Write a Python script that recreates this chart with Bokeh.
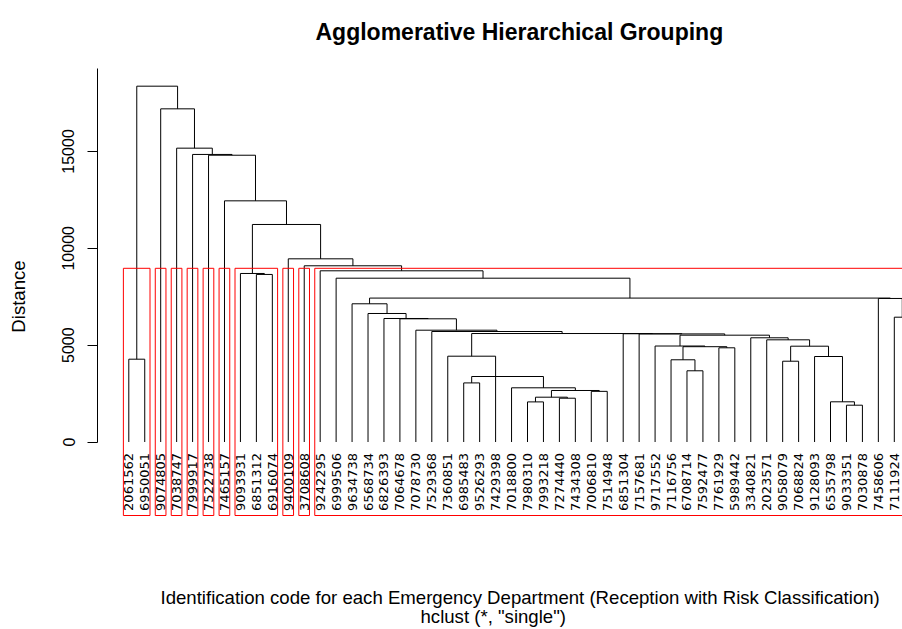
import math
from bokeh.plotting import figure
from bokeh.models import Range1d, LinearAxis, FixedTicker
from bokeh.core.properties import value
from bokeh.embed import file_html
from bokeh.resources import INLINE

# ---------------- data ----------------
title_text = "Agglomerative Hierarchical Grouping"
x_label_text = "Identification code for each Emergency Department (Reception with Risk Classification)"
sub_text = 'hclust (*, "single")'
y_label_text = "Distance"

leaf_labels = ["2061562", "6950051", "9074805", "7038747", "7999917", "7522738", "7465157",
               "9093931", "6851312", "6916074", "9400109", "3708608", "9242295", "6999506",
               "9634738", "6568734", "6826393", "7064678", "7078730", "7529368", "7360851",
               "6985483", "9526293", "7429398", "7018800", "7980310", "7993218", "7274440",
               "7434308", "7006810", "7514948", "6851304", "7157681", "9717552", "7116756",
               "6708714", "7592477", "7761929", "5989442", "3340821", "2023571", "9058079",
               "7068824", "9128093", "6535798", "9033351", "7030878", "7458606", "7111924"]

# merges (R style): negative = leaf at that display position, positive = earlier merge row
merge_left = [-46, -45, -26, -28, 3, -30, 5, -25, -22, 9,
              -36, -42, -35, -44, -21, -38, 13, 12, -34, -41,
              -40, 19, -33, -32, 15, -20, -19, -18, -17, -49,
              -16, -15, -48, 32, -14, -9, -8, -13, -12, -11,
              37, -7, -6, -5, -4, -3, -1, 47]
merge_right = [-47, 1, -27, -29, 4, -31, 6, 7, -23, 8,
               -37, -43, 11, 2, -24, -39, 16, 14, 17, 18,
               20, 21, 22, 23, 24, 25, 26, 27, 28, -50,
               29, 31, 30, 33, 34, -10, 36, 35, 38, 39,
               40, 41, 42, 43, 44, 45, -2, 46]
merge_height = [1900, 2075, 2070, 2261, 2313, 2615, 2659, 2798, 3050, 3381,
                3676, 4171, 4244, 4414, 4430, 4863, 4920, 4946, 4955, 5275,
                5380, 5515, 5580, 5590, 5600, 5705, 5772, 6360, 6376, 6443,
                6634, 7135, 7410, 7430, 8457, 8650, 8700, 8838, 9097, 9457,
                11230, 12450, 14805, 14845, 15170, 17200, 4275, 18370]

n_clusters = 10
y_ticks = [0, 5000, 10000, 15000]

# ---------------- layout helpers (pixel positions of the page) ----------------
W, H = 902, 629
LEAF1_PX, PX_PER_LEAF = 128.3, 15.948
ZERO_PY, PX_PER_UNIT = 441.5, 0.01937
AXIS_PX = 97


def dx(px):
    return 1 + (px - LEAF1_PX) / PX_PER_LEAF


def dy(py):
    return (ZERO_PY - py) / PX_PER_UNIT


FONT = "Liberation Sans"

p = figure(width=W, height=H, output_backend="svg", toolbar_location=None,
           x_range=Range1d(dx(0), dx(W)), y_range=Range1d(dy(H), dy(0)),
           x_axis_type=None, y_axis_type=None,
           min_border_left=0, min_border_right=0, min_border_top=0, min_border_bottom=0)
p.outline_line_color = None
p.background_fill_color = "white"
p.border_fill_color = "white"

# ---------------- dendrogram ----------------
node_x, node_h = {}, {}


def child_xy(c):
    if c < 0:
        return float(-c), 0.0
    return node_x[c], node_h[c]


xs, ys = [], []
for r, (a, b, h) in enumerate(zip(merge_left, merge_right, merge_height), start=1):
    xa, ha = child_xy(a)
    xb, hb = child_xy(b)
    node_x[r] = (xa + xb) / 2
    node_h[r] = h
    xs.append([xa, xa, xb, xb])
    ys.append([ha, h, h, hb])

p.multi_line(xs, ys, line_color="black", line_width=1)

# ---------------- rect.hclust boxes ----------------
hs_sorted = sorted(merge_height, reverse=True)
cut = (hs_sorted[n_clusters - 2] + hs_sorted[n_clusters - 1]) / 2


def leaves_of(c):
    if c < 0:
        return [-c]
    return leaves_of(merge_left[c - 1]) + leaves_of(merge_right[c - 1])


lefts, rights = [], []
for r, h in enumerate(merge_height, start=1):
    if h > cut:
        for c in (merge_left[r - 1], merge_right[r - 1]):
            ch = 0 if c < 0 else merge_height[c - 1]
            if ch < cut:
                lv = leaves_of(c)
                lefts.append(min(lv) - 1 + 0.66)
                rights.append(max(lv) + 0.33)

rect_bottom = dy(515)
p.quad(left=lefts, right=rights, top=[cut] * len(lefts), bottom=[rect_bottom] * len(lefts),
       fill_color=None, line_color="#FF0000", line_width=1)

# ---------------- leaf labels ----------------
p.text(x=list(range(1, len(leaf_labels) + 1)), y=[dy(452.5)] * len(leaf_labels), text=leaf_labels,
       angle=math.pi / 2, text_align="right", text_baseline="middle",
       text_font=value("DejaVu Sans"), text_font_size=value("13px"), text_color="black")

# ---------------- titles ----------------
p.text(x=[dx(315)], y=[dy(31)], text=[title_text], text_align="left", text_baseline="alphabetic",
       text_font=value(FONT), text_font_size=value("23px"), text_font_style="bold", text_color="black")
p.text(x=[dx(160)], y=[dy(597)], text=[x_label_text], text_align="left", text_baseline="middle",
       text_font=value(FONT), text_font_size=value("18.6px"), text_color="black")
p.text(x=[dx(420)], y=[dy(616)], text=[sub_text], text_align="left", text_baseline="middle",
       text_font=value(FONT), text_font_size=value("18.6px"), text_color="black")
p.text(x=[dx(18)], y=[dy(296)], text=[y_label_text], angle=math.pi / 2,
       text_align="center", text_baseline="middle",
       text_font=value(FONT), text_font_size=value("18.6px"), text_color="black")

# ---------------- y axis ----------------
yaxis = LinearAxis(ticker=FixedTicker(ticks=y_ticks), bounds=(0, dy(68)),
                   fixed_location=dx(AXIS_PX),
                   major_tick_out=10, major_tick_in=0, minor_tick_out=0, minor_tick_in=0,
                   major_label_orientation="parallel", major_label_standoff=13,
                   major_label_text_font=FONT, major_label_text_font_size="16px",
                   major_label_text_color="black", axis_line_color="black",
                   major_tick_line_color="black")
p.add_layout(yaxis, "left")

open("out.html", "w").write(file_html(p, INLINE))
